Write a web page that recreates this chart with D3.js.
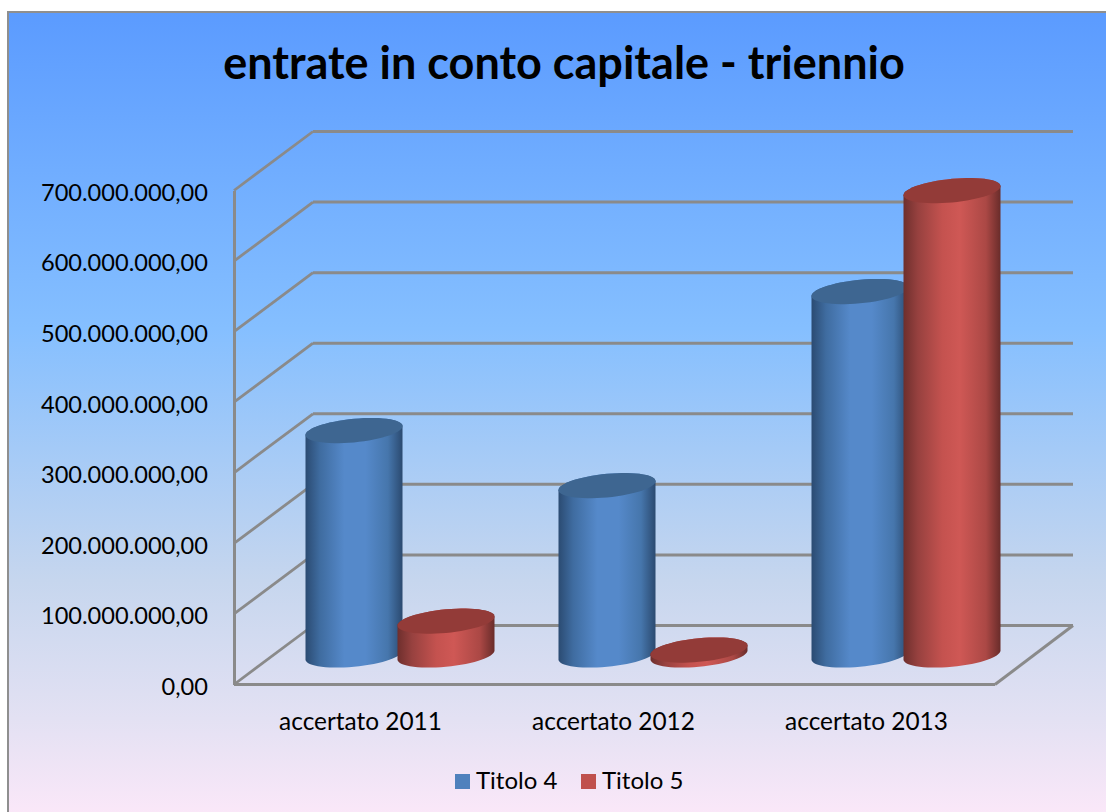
<!DOCTYPE html>
<html><head><meta charset="utf-8">
<style>html,body{margin:0;padding:0;background:#fff;overflow:hidden}svg{display:block}text{font-family:Lato,"Open Sans",sans-serif;fill:#000}</style>
<script src="https://cdn.jsdelivr.net/npm/d3@7/dist/d3.min.js"></script>
</head><body><svg id="c" width="1106" height="812"></svg>
<script>
const categories = ["accertato 2011","accertato 2012","accertato 2013"];
const seriesNames = ["Titolo 4","Titolo 5"];
const titolo4 = [318000000, 240000000, 515000000];
const titolo5 = [48000000, 7000000, 658000000];
const tickValues = [0,100000000,200000000,300000000,400000000,500000000,600000000,700000000];
const bodyStops = [
  [["0%","#2b4b72"],["15%","#3f6ca0"],["40%","#5589ca"],["62%","#5589ca"],["85%","#4676ac"],["100%","#2b4a70"]],
  [["0%","#6e2f2d"],["15%","#97413f"],["40%","#c4524f"],["58%","#cf5855"],["85%","#ab4845"],["100%","#692c2a"]]
];
const topColors = ["#3e6691","#933b38"];
const legendColors = ["#4f81bd","#c0504d"];
const gridColor = "#8a8a8a";

const svg = d3.select("#c");
const locale = d3.formatLocale({decimal:",",thousands:".",grouping:[3],currency:["","€"]});
const fmt = locale.format(",.2f");

const xL = 234, xR = 995;
const x = d3.scaleBand().domain(categories).range([xL,993]);
const y = d3.scaleLinear().domain([0,700000000]).range([684.5,190.5]);
const depth = {dx:79, dy:-59};

const defs = svg.append("defs");
const bg = defs.append("linearGradient").attr("id","bg").attr("x1",0).attr("y1",0).attr("x2",0).attr("y2",1);
[["0%","#5b9bff"],["39%","#85bfff"],["70%","#c6d6ee"],["87%","#e3e1f3"],["100%","#fde8f9"]]
  .forEach(s=>bg.append("stop").attr("offset",s[0]).attr("stop-color",s[1]));
bodyStops.forEach((st,i)=>{
  const g = defs.append("linearGradient").attr("id","body"+i).attr("x1",0).attr("y1",0).attr("x2",1).attr("y2",0);
  st.forEach(s=>g.append("stop").attr("offset",s[0]).attr("stop-color",s[1]));
});

svg.append("rect").attr("x",8).attr("y",12).attr("width",1110).attr("height",812)
  .attr("fill","url(#bg)").attr("stroke","#8f8f8f").attr("stroke-width",2);

svg.append("text").attr("x",564).attr("y",79).attr("text-anchor","middle")
  .attr("font-size",45).attr("font-weight",700).text("entrate in conto capitale - triennio");

// walls
const grid = svg.append("g").attr("fill","none").attr("stroke",gridColor);
grid.selectAll("path.back").data(tickValues).join("path").attr("class","back")
  .attr("stroke-width",3)
  .attr("d",v=>d3.line()([[xL+depth.dx,y(v)+depth.dy],[xR+depth.dx-1,y(v)+depth.dy]]));
grid.selectAll("path.side").data(tickValues).join("path").attr("class","side")
  .attr("stroke-width",2.8)
  .attr("d",v=>d3.line()([[xL,y(v)],[xL+depth.dx,y(v)+depth.dy]]));
grid.append("path").attr("stroke-width",3)
  .attr("d",d3.line()([[xR,y(0)],[xR+depth.dx-1,y(0)+depth.dy]]));

// axes
const yAxis = d3.axisLeft(y).tickValues(tickValues).tickFormat(fmt).tickSize(0).tickPadding(26);
const gy = svg.append("g").attr("transform",`translate(${xL},0)`).call(yAxis);
gy.select(".domain").attr("stroke",gridColor).attr("stroke-width",3);
gy.selectAll("text").attr("font-size",23.6).attr("dy","0.42em").style("fill","#000").style("font-family","Lato");
const xAxis = d3.axisBottom(x).tickSize(0).tickPadding(26);
const gx = svg.append("g").attr("transform",`translate(0,${y(0)})`).call(xAxis);
gx.select(".domain").attr("d",d3.line()([[xL,0],[xR,0]])).attr("stroke",gridColor).attr("stroke-width",3);
gx.selectAll("text").attr("font-size",24.4).attr("dy","0.8em").style("fill","#000").style("font-family","Lato");

// cylinders
const R = 48.5, TILT = 4.5, MINOR = 11.8, OFF = 46;
const midX = c => x(c) + x.bandwidth()/2 + depth.dx/2;
const midY = v => y(v) + depth.dy/2;
const ts = d3.range(0,361,6).map(a=>a*Math.PI/180);
const pt = (cx,cy,t)=>[cx+R*Math.cos(t), cy-TILT*Math.cos(t)+MINOR*Math.sin(t)];
const line = d3.line();
function bodyPath(cx,y0,y1){
  const lower = d3.range(0,181,6).map(a=>pt(cx,y0,a*Math.PI/180));
  const upper = d3.range(180,361,6).map(a=>pt(cx,y1,a*Math.PI/180));
  return line(lower.concat(upper))+"Z";
}
const values = [titolo4,titolo5];
categories.forEach((c,ci)=>{
  values.forEach((vals,si)=>{
    const cx = midX(c) + (si===0?-OFF:OFF);
    const y0 = midY(0), y1 = midY(vals[ci]);
    svg.append("path").attr("d",bodyPath(cx,y0,y1)).attr("fill",`url(#body${si})`);
    svg.append("path").attr("d",line(ts.map(t=>pt(cx,y1,t)))+"Z").attr("fill",topColors[si]);
  });
});

// legend
const legend = svg.append("g");
const legX = d3.scaleOrdinal().domain(seriesNames).range([455,581]);
seriesNames.forEach((n,i)=>{
  legend.append("rect").attr("x",legX(n)).attr("y",774).attr("width",15).attr("height",15).attr("fill",legendColors[i]);
  legend.append("text").attr("x",legX(n)+21).attr("y",789).attr("font-size",24).text(n);
});
</script></body></html>
